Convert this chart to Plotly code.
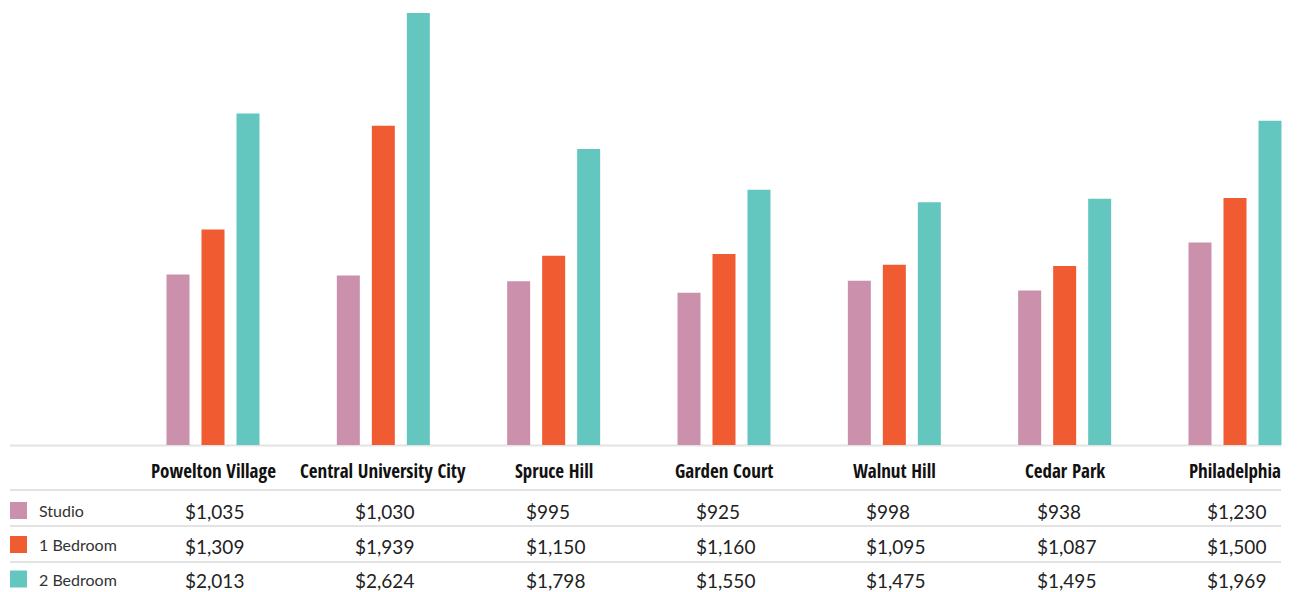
import plotly.graph_objects as go

# Median monthly rents by neighborhood and unit size
neighborhoods = ["Powelton Village", "Central University City", "Spruce Hill",
                 "Garden Court", "Walnut Hill", "Cedar Park", "Philadelphia"]
studio = [1035, 1030, 995, 925, 998, 938, 1230]
one_bedroom = [1309, 1939, 1150, 1160, 1095, 1087, 1500]
two_bedroom = [2013, 2624, 1798, 1550, 1475, 1495, 1969]

series_names = ["Studio", "1 Bedroom", "2 Bedroom"]
series_values = [studio, one_bedroom, two_bedroom]
series_colors = ["#CB90AB", "#F15B32", "#63C6BF"]

W, H = 1298, 592
PLOT_TOP, PLOT_BOTTOM = 0, 445      # pixel rows of the bar area
PLOT_LEFT, PLOT_RIGHT = 10, 1283

x_idx = list(range(len(neighborhoods)))

fig = go.Figure()
for name, vals, color in zip(series_names, series_values, series_colors):
    fig.add_trace(go.Bar(
        x=x_idx, y=vals, name=name, marker=dict(color=color, line=dict(width=0)),
        hoverinfo="skip", showlegend=False,
    ))

plot_h = PLOT_BOTTOM - PLOT_TOP


def py(pixel_y):
    """Convert a pixel row on the page into paper coordinates."""
    return (PLOT_BOTTOM - pixel_y) / plot_h


def px(pixel_x):
    return (pixel_x - PLOT_LEFT) / (PLOT_RIGHT - PLOT_LEFT)


shapes = []
line_color = "#E3E3E3"
for yline in [445.5, 490, 526, 562]:
    shapes.append(dict(type="line", xref="paper", yref="paper",
                       x0=px(10), x1=px(1281), y0=py(yline), y1=py(yline),
                       line=dict(color=line_color, width=2), layer="below"))

annotations = []
header_y = 471
row_y = [511, 546, 580]
swatch_y = [510.5, 544.5, 579]

header_font = dict(family="Open Sans Condensed, DejaVu Sans Condensed, sans-serif",
                   size=19, color="#111111", weight="bold")

for i, name in enumerate(neighborhoods):
    annotations.append(dict(
        x=i, xref="x", y=py(header_y), yref="paper", text=name,
        showarrow=False, xanchor="center", yanchor="middle", font=header_font,
    ))
    for r, vals in enumerate(series_values):
        annotations.append(dict(
            x=i, xref="x", xshift=-30, y=py(row_y[r]), yref="paper",
            text=f"${vals[i]:,}", showarrow=False, xanchor="left", yanchor="middle",
            font=dict(family="Lato", size=19, color="#222222"),
        ))

for r, (name, color) in enumerate(zip(series_names, series_colors)):
    shapes.append(dict(type="rect", xref="paper", yref="paper",
                       x0=px(10), x1=px(27), y0=py(swatch_y[r] - 8.5), y1=py(swatch_y[r] + 8.5),
                       fillcolor=color, line=dict(width=0)))
    annotations.append(dict(
        x=px(37), xref="paper", y=py(swatch_y[r]), yref="paper", text=name,
        showarrow=False, xanchor="left", yanchor="middle",
        font=dict(family="Lato", size=16, color="#333333"),
    ))

# x scale: 170.33 px per category, first group centred at 213 px
unit = (1235 - 213) / 6
x0 = -(213 - PLOT_LEFT) / unit
x1 = 6 + (PLOT_RIGHT - 1235) / unit
y_top = 2624 * plot_h / (445 - 13)

fig.update_layout(
    width=W, height=H,
    margin=dict(l=PLOT_LEFT, r=W - PLOT_RIGHT, t=PLOT_TOP, b=H - PLOT_BOTTOM, pad=0),
    paper_bgcolor="white", plot_bgcolor="white",
    barmode="group", bargap=0.3836, bargroupgap=0.343,
    xaxis=dict(range=[x0, x1], visible=False, showgrid=False, zeroline=False),
    yaxis=dict(range=[0, y_top], visible=False, showgrid=False, zeroline=False),
    shapes=shapes, annotations=annotations,
    showlegend=False,
)

fig.write_html("out.html")
